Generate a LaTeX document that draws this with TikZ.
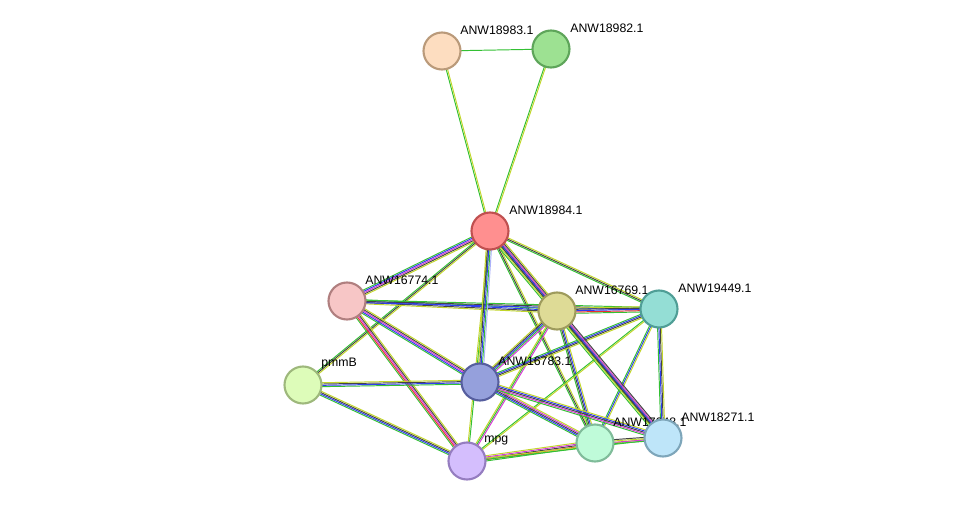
\documentclass[tikz,border=0pt]{standalone}
\usepackage{fontspec}
\setmainfont{Liberation Sans}
\usetikzlibrary{calc}
\definecolor{sgreen}{HTML}{33C033}
\definecolor{syellow}{HTML}{C2D62A}
\definecolor{sblack}{HTML}{444444}
\definecolor{sblue}{HTML}{2E3CF0}
\definecolor{smag}{HTML}{D63AD6}
\definecolor{sred}{HTML}{E83030}
% edge between two proteins: from, to, number of lines, colours
\newcommand{\ppi}[4]{%
  \foreach \c [count=\i] in {#4} {
    \pgfmathsetmacro{\o}{(\i-(#3+1)/2)*0.75}
    \draw[\c,line width=0.55pt] ($(#1)!\o pt!90:(#2)$) -- ($(#2)!\o pt!-90:(#1)$);
  }}
\begin{document}
\begin{tikzpicture}[x=0.02cm,y=-0.02cm,
  prot/.style={circle,draw,line width=1.2pt,minimum size=0.74cm,inner sep=0},
  lbl/.style={anchor=west,inner sep=0,font=\fontsize{7}{8}\selectfont}]
\useasboundingbox (0,0) rectangle (975,507);
% positions
\coordinate (c18983) at (442,51);
\coordinate (c18982) at (551,49);
\coordinate (c18984) at (490,231);
\coordinate (c16774) at (347,301);
\coordinate (c16769) at (557,311);
\coordinate (c19449) at (659,309);
\coordinate (cpmmB) at (303,385);
\coordinate (c16783) at (480,382);
\coordinate (cmpg) at (467,461);
\coordinate (c17648) at (595,443);
\coordinate (c18271) at (663,438);

% edges
\ppi{c18983}{c18982}{1}{sgreen}
\ppi{c18983}{c18984}{2}{sgreen,syellow}
\ppi{c18982}{c18984}{2}{sgreen,syellow}
\ppi{c18984}{c16774}{5}{sgreen,sblue,smag,sblack,syellow}
\ppi{c18984}{c19449}{3}{sgreen,sblack,syellow}
\ppi{c18984}{cpmmB}{3}{sgreen,sblack,syellow}
\ppi{c18984}{cmpg}{2}{syellow,sgreen}
\ppi{c18984}{c17648}{3}{sgreen,sblack,syellow}
\ppi{c18984}{c18271}{3}{sgreen,sblack,syellow}
\ppi{c16774}{c16769}{4}{syellow,sblack,sblue,sgreen}
\ppi{c16774}{c19449}{3}{sblue,sblack,sgreen}
\ppi{c16774}{c16783}{5}{sgreen,sblue,smag,sblack,syellow}
\ppi{c16774}{cmpg}{5}{sgreen,sred,smag,sblack,syellow}
\ppi{c16769}{c16783}{5}{syellow,sblack,sblue,sgreen,smag}
\ppi{c16769}{cmpg}{3}{syellow,sgreen,smag}
\ppi{c16769}{c17648}{4}{sgreen,sblack,sblue,syellow}
\ppi{c19449}{c16783}{4}{sgreen,sblue,sblack,syellow}
\ppi{c19449}{cmpg}{2}{sgreen,syellow}
\ppi{c19449}{c17648}{3}{sgreen,sblue,syellow}
\ppi{c19449}{c18271}{4}{sgreen,sblue,sblack,syellow}
\ppi{cpmmB}{c16783}{4}{sgreen,sblue,sblack,syellow}
\ppi{cpmmB}{cmpg}{4}{sgreen,sblue,sblack,syellow}
\ppi{c16783}{c17648}{5}{sgreen,sblue,sblack,smag,syellow}
\ppi{c16783}{c18271}{5}{sgreen,smag,sblack,sblue,syellow}
\ppi{cmpg}{c17648}{5}{sgreen,sred,sblack,smag,syellow}
\ppi{cmpg}{c18271}{2}{sgreen,syellow}
\ppi{c17648}{c18271}{4}{sgreen,smag,syellow,sblack}
\ppi{c16769}{c19449}{5}{sgreen,sred,sblue,sblack,syellow}
\ppi{c18984}{c16783}{5}{syellow,sblack,sblue,sgreen,sblue!40}
\ppi{c18984}{c16769}{7}{sgreen,syellow,sblack,sblue,smag,sblack,syellow}
\ppi{c16769}{c18271}{6}{sgreen,syellow,sblack,sblue,smag,sblack}

% labels
\node[lbl] (l18983) at ($(c18983)+(18,-21)$) {ANW18983.1};
\node[lbl] (l18982) at ($(c18982)+(19,-21)$) {ANW18982.1};
\node[lbl] (l18984) at ($(c18984)+(19,-21)$) {ANW18984.1};
\node[lbl] (l16774) at ($(c16774)+(18,-21)$) {ANW16774.1};
\node[lbl] (l16769) at ($(c16769)+(18,-21)$) {ANW16769.1};
\node[lbl] (l19449) at ($(c19449)+(19,-21)$) {ANW19449.1};
\node[lbl] (lpmmB) at ($(cpmmB)+(18,-21)$) {pmmB};
\node[lbl] (l16783) at ($(c16783)+(18,-21)$) {ANW16783.1};
\node[lbl] (lmpg) at ($(cmpg)+(17,-21)$) {mpg};
\node[lbl] (l17648) at ($(c17648)+(18,-21)$) {ANW17648.1};
\node[lbl] (l18271) at ($(c18271)+(18,-21)$) {ANW18271.1};

% proteins
\node[prot,fill={rgb,255:red,253;green,221;blue,192},draw={rgb,255:red,186;green,154;blue,122}] (n18983) at (c18983) {};
\node[prot,fill={rgb,255:red,157;green,225;blue,146},draw={rgb,255:red,94;green,165;blue,90}] (n18982) at (c18982) {};
\node[prot,fill={rgb,255:red,255;green,143;blue,143},draw={rgb,255:red,192;green,80;blue,80}] (n18984) at (c18984) {};
\node[prot,fill={rgb,255:red,247;green,198;blue,198},draw={rgb,255:red,176;green,127;blue,127}] (n16774) at (c16774) {};
\node[prot,fill={rgb,255:red,222;green,219;blue,150},draw={rgb,255:red,158;green,155;blue,92}] (n16769) at (c16769) {};
\node[prot,fill={rgb,255:red,148;green,222;blue,213},draw={rgb,255:red,79;green,158;blue,150}] (n19449) at (c19449) {};
\node[prot,fill={rgb,255:red,221;green,252;blue,185},draw={rgb,255:red,158;green,184;blue,124}] (npmmB) at (cpmmB) {};
\node[prot,fill={rgb,255:red,149;green,160;blue,220},draw={rgb,255:red,86;green,94;blue,158}] (n16783) at (c16783) {};
\node[prot,fill={rgb,255:red,212;green,190;blue,253},draw={rgb,255:red,149;green,125;blue,192}] (nmpg) at (cmpg) {};
\node[prot,fill={rgb,255:red,191;green,251;blue,217},draw={rgb,255:red,128;green,188;blue,154}] (n17648) at (c17648) {};
\node[prot,fill={rgb,255:red,190;green,229;blue,249},draw={rgb,255:red,126;green,166;blue,186}] (n18271) at (c18271) {};
\end{tikzpicture}
\end{document}
